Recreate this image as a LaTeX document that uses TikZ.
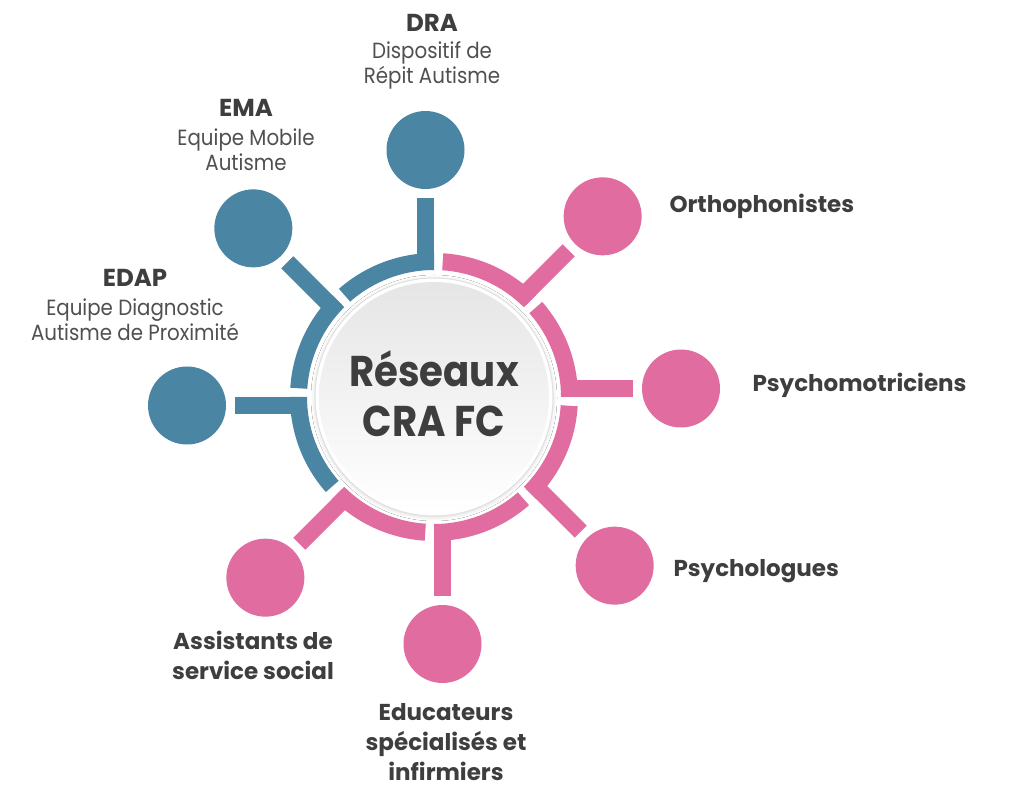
\documentclass[tikz,border=0pt]{standalone}
\usepackage{fontspec}
\setmainfont{Poppins}[FakeStretch=0.9]
\newfontfamily\rsplain{Poppins}
\usetikzlibrary{shadows.blur}
\definecolor{rsblue}{HTML}{4B85A4}
\definecolor{rspink}{HTML}{E16CA0}
\definecolor{rstext}{HTML}{3E3E3E}
\definecolor{rssub}{HTML}{505050}
\begin{document}
\begin{tikzpicture}[x=1pt,y=1pt,
  dot/.style={circle,fill=#1,inner sep=0pt,minimum size=78pt,outer sep=9pt},
  stem/.style={line width=17pt,draw=#1},
  ttl/.style={text=rstext,font=\rsplain\fontsize{24.5}{28}\selectfont\bfseries},
  sub/.style={text=rssub,font=\fontsize{22}{25}\selectfont,align=center},
  lbl/.style={text=rstext,font=\rsplain\fontsize{23}{30}\selectfont\bfseries,align=center}]
\useasboundingbox (0,0) rectangle (1024,801);
\fill[white] (0,0) rectangle (1024,801);
% segments
\foreach \a/\c/\n in {0/rspink/psm,45/rspink/ort,90/rsblue/dra,135/rsblue/ema,180/rsblue/edap,225/rspink/ass,270/rspink/edu,315/rspink/psy}{
  \begin{scope}[shift={(434,404)},rotate=\a]
    \fill[\c] (0:127) arc[start angle=0,end angle=41.3,radius=127]
      -- (41.3:144) arc[start angle=41.3,end angle=0,radius=144] -- cycle;
    \coordinate (s\n) at (130,8.5);
    \node[dot=\c] (c\n) at (247,8.5) {};
  \end{scope}
  \draw[stem=\c] (s\n) -- (c\n);
}
% centre
\fill[white,blur shadow={shadow blur steps=8,shadow xshift=0pt,shadow yshift=-1pt,shadow opacity=15,shadow blur radius=4pt}] (434,404) circle[radius=119];
\draw[black!12,line width=1pt,fill=white] (434,404) circle[radius=119];
\shade[top color=black!10,bottom color=white] (434,404) circle[radius=115];
\node[text=rstext,font=\fontsize{43}{50}\selectfont\bfseries,align=center] (ctr) at (434,407) {Réseaux\\CRA FC};
% labels
\node[ttl,anchor=base] (tdra) at (432,769) {DRA};
\node[sub] (sdra) at (432,736) {Dispositif de\\Répit Autisme};
\node[ttl,anchor=base] (tema) at (246,684) {EMA};
\node[sub] (sema) at (246,651) {Equipe Mobile\\Autisme};
\node[ttl,anchor=base] (tedap) at (135,514) {EDAP};
\node[sub] (sedap) at (135,481) {Equipe Diagnostic\\Autisme de Proximité};
\node[lbl,anchor=base west] (lort) at (666,588) {Orthophonistes};
\node[lbl,anchor=base west] (lpsm) at (749,409) {Psychomotriciens};
\node[lbl,anchor=base west] (lpsy) at (670,225) {Psychologues};
\node[lbl] (lass) at (253,146) {Assistants de\\service social};
\node[lbl] (ledu) at (446,59) {Educateurs\\spécialisés et\\infirmiers};
\end{tikzpicture}
\end{document}
